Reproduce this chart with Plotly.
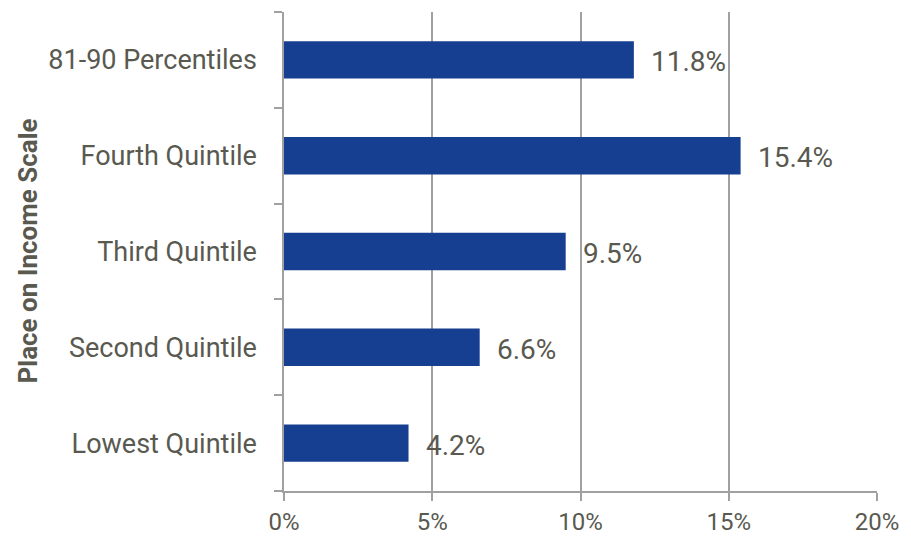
import plotly.graph_objects as go

categories = ["Lowest Quintile", "Second Quintile", "Third Quintile", "Fourth Quintile", "81-90 Percentiles"]
values = [4.2, 6.6, 9.5, 15.4, 11.8]
x_ticks = [0, 5, 10, 15, 20]
x_tick_labels = ["0%", "5%", "10%", "15%", "20%"]
y_title = "Place on Income Scale"

BAR = "#163F91"
TXT = "#595950"
GRID = "#A0A0A0"
FONT = "Roboto, Liberation Sans, Arial"

fig = go.Figure(go.Bar(
    x=values, y=categories, orientation="h",
    marker=dict(color=BAR, line=dict(width=0)),
    width=0.39, hoverinfo="skip",
))

for v, c in zip(values, categories):
    fig.add_annotation(x=v, y=c, text=f"{v:.1f}%", showarrow=False,
                       xanchor="left", xshift=15, yshift=-2,
                       font=dict(family=FONT, size=28, color=TXT))

fig.add_annotation(xref="paper", yref="paper", x=-(284 - 27) / 593, y=0.5,
                   text=f"<b>{y_title}</b>", textangle=-90, showarrow=False,
                   xanchor="center", yanchor="middle",
                   font=dict(family=FONT, size=26, color=TXT))

# page body has an 8px default margin; figure sized so the plot area lands as in the reference
fig.update_layout(
    width=903, height=529,
    margin=dict(l=276, r=34, t=4, b=46, autoexpand=False),
    plot_bgcolor="white", paper_bgcolor="white",
    showlegend=False,
    font=dict(family=FONT, color=TXT, size=27),
    xaxis=dict(range=[0, 20], tickvals=x_ticks, ticktext=x_tick_labels,
               showgrid=True, gridcolor=GRID, gridwidth=1.5,
               showline=True, linecolor=GRID, linewidth=1.5,
               ticks="outside", ticklen=8, tickcolor=GRID, tickwidth=1.5,
               ticklabelstandoff=0,
               tickfont=dict(size=24, color=TXT), zeroline=False,
               automargin=False, fixedrange=True),
    yaxis=dict(categoryorder="array", categoryarray=categories,
               tickson="boundaries", ticks="outside", ticklen=8,
               tickcolor=GRID, tickwidth=1.5,
               showline=True, linecolor=GRID, linewidth=1.5,
               showgrid=False, zeroline=False,
               ticklabelstandoff=20, automargin=False,
               tickfont=dict(size=27, color=TXT), fixedrange=True),
)

fig.write_html("out.html")
